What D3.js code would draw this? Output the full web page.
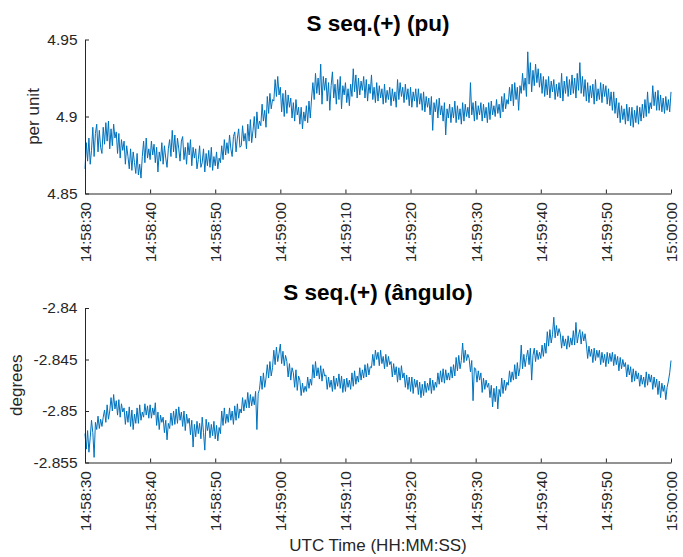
<!DOCTYPE html>
<html>
<head>
<meta charset="utf-8">
<script src="https://cdn.jsdelivr.net/npm/d3@7"></script>
<style>
  body { margin: 0; background: #fff; }
  svg { display: block; font-family: "Liberation Sans", Arial, Helvetica, sans-serif; }
</style>
</head>
<body>
<svg id="chart" width="683" height="557"></svg>
<script>
// Zeitachse
const startTime = "14:58:30";
const sampleStep = 0.2; // Sekunden zwischen zwei Werten
const xTickLabels = ["14:58:30", "14:58:40", "14:58:50", "14:59:00", "14:59:10",
  "14:59:20", "14:59:30", "14:59:40", "14:59:50", "15:00:00"];

// Y-Ticks
const puTicks = [4.85, 4.9, 4.95];
const angTicks = [-2.855, -2.85, -2.845, -2.84];

// S seq.(+) Betrag (pu) (5 Werte pro Sekunde)
const puValues = [
  4.866, 4.883, 4.871, 4.886, 4.869, 4.878, 4.893, 4.874, 4.889, 4.895, 4.877, 4.891, 4.880, 4.876, 4.893, 4.882, 4.896, 4.884, 4.897, 4.879, 4.892, 4.881, 4.895, 4.886, 4.890,
  4.876, 4.889, 4.873, 4.885, 4.878, 4.884, 4.869, 4.881, 4.874, 4.866, 4.879, 4.865, 4.877, 4.870, 4.863, 4.876, 4.862, 4.869, 4.860, 4.874, 4.884, 4.870, 4.886, 4.873, 4.879,
  4.872, 4.884, 4.875, 4.882, 4.870, 4.880, 4.864, 4.877, 4.871, 4.883, 4.869, 4.881, 4.873, 4.867, 4.879, 4.885, 4.874, 4.891, 4.877, 4.888, 4.873, 4.886, 4.879, 4.871, 4.884,
  4.887, 4.872, 4.880, 4.869, 4.883, 4.875, 4.885, 4.868, 4.880, 4.873, 4.879, 4.866, 4.872, 4.881, 4.867, 4.870, 4.879, 4.864, 4.876, 4.868, 4.878, 4.867, 4.880, 4.865, 4.874,
  4.868, 4.877, 4.866, 4.873, 4.870, 4.881, 4.872, 4.885, 4.875, 4.883, 4.876, 4.888, 4.879, 4.874, 4.887, 4.890, 4.877, 4.886, 4.892, 4.880, 4.881, 4.894, 4.884, 4.889, 4.879,
  4.895, 4.884, 4.898, 4.883, 4.891, 4.900, 4.886, 4.903, 4.892, 4.897, 4.894, 4.908, 4.897, 4.904, 4.893, 4.913, 4.902, 4.915, 4.905, 4.911, 4.910, 4.924, 4.913, 4.926, 4.914,
  4.919, 4.903, 4.915, 4.900, 4.917, 4.902, 4.914, 4.906, 4.912, 4.899, 4.909, 4.897, 4.911, 4.901, 4.906, 4.895, 4.906, 4.892, 4.903, 4.897, 4.907, 4.896, 4.910, 4.899, 4.912,
  4.922, 4.911, 4.928, 4.915, 4.925, 4.914, 4.934, 4.908, 4.926, 4.917, 4.925, 4.910, 4.922, 4.904, 4.920, 4.929, 4.912, 4.921, 4.908, 4.924, 4.911, 4.926, 4.905, 4.920, 4.914,
  4.922, 4.909, 4.918, 4.907, 4.921, 4.913, 4.931, 4.916, 4.927, 4.912, 4.925, 4.914, 4.923, 4.917, 4.926, 4.912, 4.924, 4.910, 4.921, 4.915, 4.927, 4.911, 4.919, 4.909, 4.922,
  4.910, 4.920, 4.912, 4.918, 4.908, 4.921, 4.909, 4.917, 4.911, 4.919, 4.907, 4.918, 4.910, 4.916, 4.906, 4.924, 4.911, 4.922, 4.913, 4.919, 4.909, 4.921, 4.911, 4.918, 4.907,
  4.919, 4.906, 4.916, 4.910, 4.918, 4.906, 4.918, 4.908, 4.915, 4.904, 4.916, 4.903, 4.913, 4.906, 4.912, 4.901, 4.913, 4.891, 4.909, 4.903, 4.911, 4.899, 4.912, 4.901, 4.907,
  4.897, 4.909, 4.888, 4.905, 4.899, 4.908, 4.896, 4.906, 4.899, 4.910, 4.896, 4.907, 4.898, 4.905, 4.895, 4.909, 4.897, 4.908, 4.900, 4.906, 4.899, 4.922, 4.901, 4.909, 4.897,
  4.910, 4.898, 4.907, 4.901, 4.909, 4.897, 4.908, 4.899, 4.906, 4.896, 4.909, 4.898, 4.910, 4.901, 4.907, 4.900, 4.911, 4.902, 4.908, 4.899, 4.913, 4.903, 4.915, 4.905, 4.911,
  4.908, 4.919, 4.910, 4.921, 4.907, 4.922, 4.911, 4.919, 4.904, 4.920, 4.915, 4.928, 4.917, 4.925, 4.913, 4.942, 4.921, 4.935, 4.916, 4.930, 4.920, 4.934, 4.922, 4.931, 4.919,
  4.928, 4.915, 4.926, 4.913, 4.924, 4.914, 4.926, 4.912, 4.923, 4.916, 4.924, 4.911, 4.921, 4.913, 4.922, 4.912, 4.928, 4.910, 4.923, 4.915, 4.926, 4.913, 4.924, 4.914, 4.927,
  4.915, 4.925, 4.912, 4.928, 4.917, 4.935, 4.915, 4.926, 4.913, 4.924, 4.910, 4.922, 4.909, 4.920, 4.912, 4.921, 4.908, 4.924, 4.910, 4.918, 4.911, 4.922, 4.909, 4.921, 4.913,
  4.920, 4.908, 4.918, 4.907, 4.916, 4.904, 4.916, 4.902, 4.912, 4.899, 4.909, 4.896, 4.907, 4.898, 4.905, 4.895, 4.908, 4.897, 4.906, 4.894, 4.906, 4.893, 4.904, 4.896, 4.907,
  4.895, 4.906, 4.897, 4.908, 4.899, 4.911, 4.900, 4.916, 4.902, 4.909, 4.905, 4.920, 4.907, 4.916, 4.904, 4.917, 4.904, 4.914, 4.903, 4.912, 4.902, 4.913, 4.904, 4.911, 4.903,
  4.916
];

// S seq.(+) Winkel (Grad) (5 Werte pro Sekunde)
const angValues = [
  -2.8522, -2.8537, -2.8519, -2.8540, -2.8526, -2.8509, -2.8521, -2.8545, -2.8511, -2.8518, -2.8505, -2.8517, -2.8508, -2.8515, -2.8506,
  -2.8499, -2.8511, -2.8494, -2.8508, -2.8500, -2.8487, -2.8500, -2.8484, -2.8498, -2.8490, -2.8504, -2.8489, -2.8506, -2.8493, -2.8501,
  -2.8497, -2.8513, -2.8500, -2.8511, -2.8496, -2.8515, -2.8499, -2.8518, -2.8503, -2.8512, -2.8497, -2.8512, -2.8494, -2.8509, -2.8501,
  -2.8506, -2.8493, -2.8504, -2.8495, -2.8507, -2.8494, -2.8507, -2.8497, -2.8504, -2.8492, -2.8514, -2.8501, -2.8518, -2.8504, -2.8511,
  -2.8506, -2.8521, -2.8509, -2.8528, -2.8512, -2.8517, -2.8502, -2.8514, -2.8500, -2.8513, -2.8498, -2.8512, -2.8496, -2.8509, -2.8501,
  -2.8515, -2.8500, -2.8519, -2.8503, -2.8512, -2.8507, -2.8523, -2.8509, -2.8535, -2.8513, -2.8525, -2.8510, -2.8522, -2.8512, -2.8527,
  -2.8506, -2.8521, -2.8538, -2.8508, -2.8519, -2.8511, -2.8526, -2.8513, -2.8524, -2.8510, -2.8527, -2.8514, -2.8529, -2.8516, -2.8522,
  -2.8500, -2.8514, -2.8497, -2.8512, -2.8503, -2.8511, -2.8497, -2.8509, -2.8500, -2.8513, -2.8495, -2.8509, -2.8493, -2.8507, -2.8498,
  -2.8502, -2.8487, -2.8500, -2.8489, -2.8497, -2.8482, -2.8497, -2.8484, -2.8495, -2.8486, -2.8494, -2.8481, -2.8518, -2.8483, -2.8479,
  -2.8466, -2.8479, -2.8463, -2.8477, -2.8468, -2.8455, -2.8468, -2.8452, -2.8466, -2.8458, -2.8441, -2.8455, -2.8438, -2.8452, -2.8444,
  -2.8435, -2.8454, -2.8442, -2.8456, -2.8446, -2.8452, -2.8467, -2.8454, -2.8470, -2.8458, -2.8463, -2.8477, -2.8460, -2.8480, -2.8466,
  -2.8470, -2.8485, -2.8473, -2.8482, -2.8476, -2.8481, -2.8467, -2.8478, -2.8469, -2.8475, -2.8455, -2.8468, -2.8452, -2.8466, -2.8458,
  -2.8469, -2.8456, -2.8471, -2.8459, -2.8466, -2.8465, -2.8479, -2.8467, -2.8477, -2.8470, -2.8481, -2.8466, -2.8479, -2.8468, -2.8476,
  -2.8464, -2.8478, -2.8466, -2.8482, -2.8469, -2.8481, -2.8468, -2.8477, -2.8470, -2.8479, -2.8463, -2.8476, -2.8461, -2.8474, -2.8466,
  -2.8472, -2.8458, -2.8470, -2.8460, -2.8468, -2.8455, -2.8467, -2.8454, -2.8465, -2.8457, -2.8458, -2.8445, -2.8456, -2.8441, -2.8450,
  -2.8443, -2.8456, -2.8441, -2.8454, -2.8447, -2.8459, -2.8445, -2.8457, -2.8447, -2.8455, -2.8452, -2.8467, -2.8454, -2.8465, -2.8457,
  -2.8472, -2.8458, -2.8470, -2.8456, -2.8468, -2.8463, -2.8477, -2.8465, -2.8479, -2.8467, -2.8481, -2.8467, -2.8483, -2.8469, -2.8477,
  -2.8470, -2.8484, -2.8472, -2.8487, -2.8474, -2.8485, -2.8471, -2.8482, -2.8473, -2.8480, -2.8468, -2.8483, -2.8470, -2.8480, -2.8472,
  -2.8477, -2.8463, -2.8474, -2.8461, -2.8472, -2.8459, -2.8473, -2.8460, -2.8470, -2.8463, -2.8470, -2.8457, -2.8468, -2.8455, -2.8466,
  -2.8448, -2.8461, -2.8446, -2.8459, -2.8451, -2.8434, -2.8453, -2.8441, -2.8451, -2.8445, -2.8449, -2.8462, -2.8451, -2.8490, -2.8458,
  -2.8459, -2.8472, -2.8461, -2.8470, -2.8463, -2.8482, -2.8468, -2.8479, -2.8470, -2.8477, -2.8473, -2.8487, -2.8475, -2.8496, -2.8478,
  -2.8491, -2.8476, -2.8498, -2.8479, -2.8486, -2.8468, -2.8483, -2.8470, -2.8480, -2.8472, -2.8475, -2.8461, -2.8472, -2.8462, -2.8470,
  -2.8455, -2.8469, -2.8453, -2.8466, -2.8458, -2.8436, -2.8459, -2.8445, -2.8457, -2.8448, -2.8441, -2.8455, -2.8439, -2.8470, -2.8446,
  -2.8439, -2.8452, -2.8441, -2.8450, -2.8443, -2.8449, -2.8436, -2.8447, -2.8434, -2.8444, -2.8423, -2.8437, -2.8421, -2.8434, -2.8426,
  -2.8409, -2.8429, -2.8417, -2.8427, -2.8420, -2.8425, -2.8439, -2.8427, -2.8437, -2.8430, -2.8440, -2.8427, -2.8438, -2.8429, -2.8436,
  -2.8422, -2.8436, -2.8414, -2.8434, -2.8426, -2.8421, -2.8435, -2.8423, -2.8432, -2.8425, -2.8435, -2.8449, -2.8437, -2.8447, -2.8440,
  -2.8453, -2.8439, -2.8451, -2.8441, -2.8448, -2.8441, -2.8455, -2.8443, -2.8453, -2.8445, -2.8457, -2.8443, -2.8454, -2.8444, -2.8452,
  -2.8443, -2.8456, -2.8445, -2.8455, -2.8447, -2.8461, -2.8448, -2.8459, -2.8450, -2.8457, -2.8453, -2.8467, -2.8455, -2.8465, -2.8457,
  -2.8472, -2.8459, -2.8471, -2.8461, -2.8469, -2.8463, -2.8476, -2.8465, -2.8474, -2.8467, -2.8477, -2.8462, -2.8475, -2.8464, -2.8472,
  -2.8465, -2.8479, -2.8467, -2.8477, -2.8469, -2.8484, -2.8471, -2.8487, -2.8473, -2.8481, -2.8475, -2.8489, -2.8477, -2.8471, -2.8463,
  -2.8451
];

const svg = d3.select("#chart");
const lineColor = "#0072BD";
const axisColor = "#262626";
const left = 85, right = 671;

const parseTime = d3.utcParse("%H:%M:%S");
const t0 = parseTime(startTime);
const timeOf = i => new Date(t0.getTime() + i * sampleStep * 1000);

const x = d3.scaleUtc()
  .domain([parseTime(xTickLabels[0]), parseTime(xTickLabels[xTickLabels.length - 1])])
  .range([left, right]);

function drawPanel(values, yDomain, yTicks, title, yLabel, top, bottom, yLabelX) {
  const y = d3.scaleLinear().domain(yDomain).range([bottom, top]);
  const g = svg.append("g");

  // Datenlinie
  const line = d3.line()
    .x((d, i) => x(timeOf(i)))
    .y(d => y(d));

  g.append("path")
    .datum(values)
    .attr("d", line)
    .attr("fill", "none")
    .attr("stroke", lineColor)
    .attr("stroke-width", 1)
    .attr("stroke-linejoin", "round");

  // X-Achse (Ticks nach innen, Labels gedreht)
  const xAxis = g.append("g")
    .attr("transform", `translate(0,${bottom})`)
    .call(d3.axisBottom(x)
      .tickValues(xTickLabels.map(parseTime))
      .tickFormat(d3.utcFormat("%H:%M:%S"))
      .tickSizeInner(-4)
      .tickSizeOuter(0));

  xAxis.selectAll("text")
    .attr("transform", "rotate(-90)")
    .attr("x", -8.5)
    .attr("y", 0)
    .attr("dy", "0.35em")
    .style("text-anchor", "end");

  // Y-Achse
  const yAxis = g.append("g")
    .attr("transform", `translate(${left},0)`)
    .call(d3.axisLeft(y)
      .tickValues(yTicks)
      .tickFormat(d => String(d))
      .tickSizeInner(-4)
      .tickSizeOuter(0)
      .tickPadding(7.5));

  [xAxis, yAxis].forEach(a => {
    a.select(".domain").attr("stroke", axisColor).attr("stroke-width", 1);
    a.selectAll(".tick line").attr("stroke", axisColor);
    a.selectAll("text")
      .attr("fill", axisColor)
      .style("font-size", "15.5px");
  });

  // Titel
  g.append("text")
    .attr("x", (left + right) / 2)
    .attr("y", top - 8.5)
    .attr("text-anchor", "middle")
    .attr("fill", "#000")
    .style("font-size", "22.5px")
    .style("font-weight", "bold")
    .text(title);

  // Y-Label
  g.append("text")
    .attr("transform", `translate(${yLabelX},${(top + bottom) / 2}) rotate(-90)`)
    .attr("text-anchor", "middle")
    .attr("fill", axisColor)
    .style("font-size", "17px")
    .text(yLabel);
}

drawPanel(puValues, [4.85, 4.95], puTicks, "S seq.(+) (pu)", "per unit", 39.5, 193.5, 39);
drawPanel(angValues, [-2.855, -2.84], angTicks, "S seq.(+) (ângulo)", "degrees", 308, 462.5, 22);

// X-Label
svg.append("text")
  .attr("x", (left + right) / 2)
  .attr("y", 551)
  .attr("text-anchor", "middle")
  .attr("fill", axisColor)
  .style("font-size", "17px")
  .text("UTC Time (HH:MM:SS)");
</script>
</body>
</html>
